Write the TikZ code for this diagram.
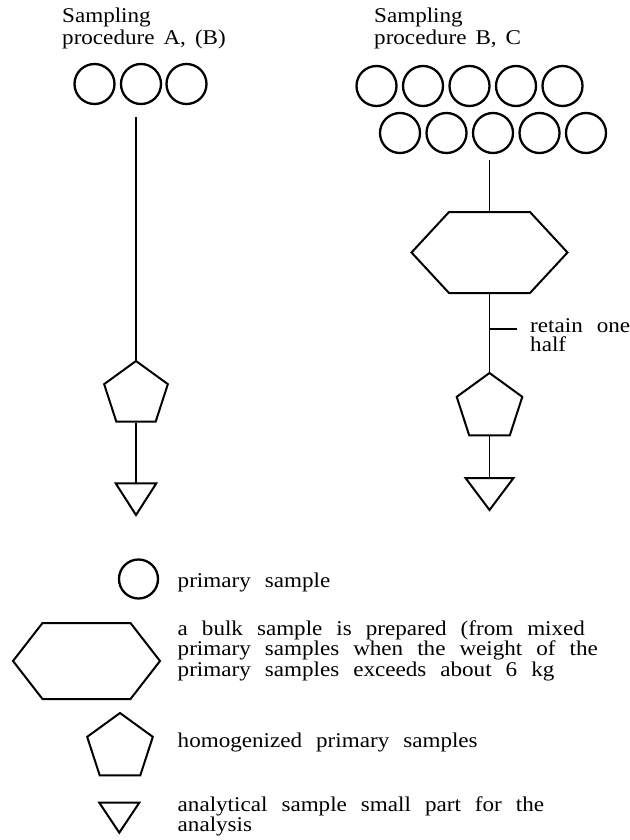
\documentclass[tikz,border=0pt]{standalone}
\usepackage{fontspec}
\setmainfont[FakeStretch=1.1]{Liberation Serif}
\usetikzlibrary{shapes.geometric}
\newcommand\lblfont{\fontsize{21}{18.5}\selectfont\spaceskip=14pt\relax}
\newcommand\ttlfont{\fontsize{21}{22}\selectfont\spaceskip=9pt\relax}
\tikzset{
  blank/.style={draw=none, inner sep=0pt, outer sep=0pt},
  sample/.style={circle, draw, line width=2.3pt, minimum size=40pt, inner sep=0pt},
  homog/.style={regular polygon, regular polygon sides=5, draw, line width=2pt, inner sep=0pt},
  outline/.style={line width=2pt, line join=miter},
  conn/.style={line width=1.8pt},
  lbl/.style={inner sep=0pt, anchor=base west, align=left, font=\lblfont},
  ttl/.style={inner sep=0pt, anchor=base west, align=left, font=\ttlfont},
}
\newcommand\bulkhex[5]{%
  \node[blank, minimum width=#3, minimum height=#4] (#1) at #2 {};
  \draw[outline] (#1.west) -- ([xshift=-#5]#1.north) -- ([xshift=#5]#1.north)
    -- (#1.east) -- ([xshift=#5]#1.south) -- ([xshift=-#5]#1.south) -- cycle;}
\newcommand\anatri[4]{%
  \node[blank, minimum width=#3, minimum height=#4] (#1) at #2 {};
  \draw[outline] (#1.north west) -- (#1.north east) -- (#1.south) -- cycle;}
\begin{document}
\begin{tikzpicture}[x=1pt, y=-1pt]
\useasboundingbox (0,0) rectangle (629,840);
\fill[white] (0,0) rectangle (629,840);

% ---- titles (base = baseline of the last line)
\node[ttl] (t1) at (62,45) {Sampling\\procedure A, (B)};
\node[ttl] (t2) at (374,45) {Sampling\\procedure B, C};

% ---- left column
\node[sample] (l1) at (94.5,84) {};
\node[sample] (l2) at (141,84) {};
\node[sample] (l3) at (186.5,84) {};
\coordinate (ltop) at (136,117);
\node[homog, minimum size=67pt] (lpent) at (136,394.5) {};
\anatri{ltri}{(136,499.2)}{40.6pt}{31.7pt}
\draw[conn] (ltop) -- (lpent.north);
\draw[conn] (lpent.south) -- (ltri.north);

% ---- right column
\foreach \i/\x in {1/376.5,2/423,3/469.5,4/516,5/562.5}
  \node[sample] (ra\i) at (\x,86) {};
\foreach \i/\x in {1/400,2/446.5,3/493,4/539.5,5/586}
  \node[sample] (rb\i) at (\x,133) {};
\coordinate (rtop) at (489.5,160);
\bulkhex{rhex}{(489.5,252.5)}{156pt}{81pt}{40.5pt}
\node[homog, minimum size=69pt] (rpent) at (489.5,407.5) {};
\anatri{rtri}{(489.5,494)}{48pt}{32pt}
\draw[conn] (rtop) -- (rhex.north);
\draw[conn] (rhex.south) -- (rpent.north);
\draw[conn] (rpent.south) -- (rtri.north);
\coordinate (rtick) at (489.5,329);
\coordinate (rtickend) at (517,329);
\draw[conn] (rtick) -- (rtickend);
\node[lbl] (retain) at (530,351) {retain one\\half};

% ---- legend
\node[sample, minimum size=39pt] (kc) at (138.5,579) {};
\node[lbl] (kct) at (177.5,587) {primary sample};
\bulkhex{khex}{(86.5,661)}{147pt}{76pt}{44pt}
\node[lbl] (khext) at (177.5,676) {a bulk sample is prepared (from mixed\\primary samples when the weight of the\\primary samples exceeds about 6 kg};
\node[homog, minimum size=69pt] (kpent) at (120,747.5) {};
\node[lbl] (kpentt) at (177.5,747) {homogenized primary samples};
\anatri{ktri}{(119.3,817.7)}{40pt}{30pt}
\node[lbl] (ktrit) at (177.5,831.5) {analytical sample small part for the\\analysis};
\end{tikzpicture}
\end{document}
